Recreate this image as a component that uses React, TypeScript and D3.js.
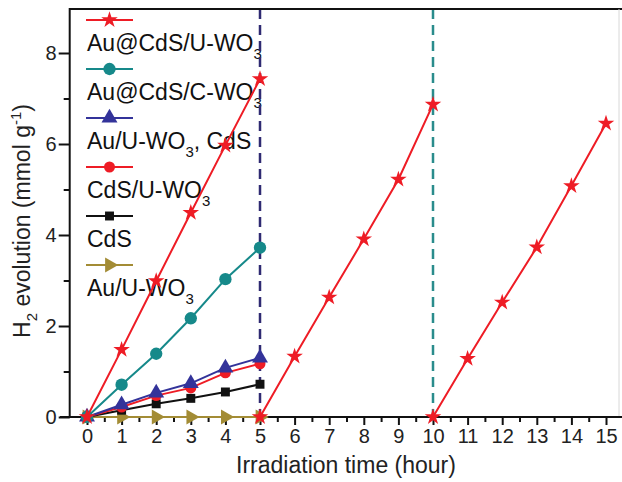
import * as d3 from "d3";
import React, { useEffect, useRef } from "react";

// irradiation hours for each run
const hours = [0, 1, 2, 3, 4, 5];
const cycle2Hours = [5, 6, 7, 8, 9, 10];
const cycle3Hours = [10, 11, 12, 13, 14, 15];

// H2 evolution (mmol g-1)
const auCdsUwo3 = [0, 1.48, 2.99, 4.49, 5.97, 7.43];
const auCdsUwo3Cycle2 = [0, 1.33, 2.63, 3.91, 5.22, 6.87];
const auCdsUwo3Cycle3 = [0, 1.28, 2.52, 3.73, 5.08, 6.45];
const auCdsCwo3 = [0, 0.71, 1.39, 2.17, 3.03, 3.72];
const auUwo3Cds = [0, 0.27, 0.53, 0.74, 1.08, 1.3];
const cdsUwo3 = [0, 0.22, 0.47, 0.64, 0.97, 1.17];
const cds = [0, 0.15, 0.29, 0.41, 0.55, 0.72];
const auUwo3 = [0, 0, 0, 0, 0, 0];

const xTicks = d3.range(0, 16);
const yTicks = [0, 2, 4, 6, 8];
const cycleBreaks = [5, 10];

// legend labels: [text, subscript, rest]
const legendLabels = [
  ["Au@CdS/U-WO", "3", ""],
  ["Au@CdS/C-WO", "3", ""],
  ["Au/U-WO", "3", ", CdS"],
  ["CdS/U-WO", "3", ""],
  ["CdS", "", ""],
  ["Au/U-WO", "3", ""],
];

const FONT = "'Liberation Sans', Arial, sans-serif";

const App = () => {
  const svgRef = useRef<SVGSVGElement>(null);

  useEffect(() => {
    const svg = d3.select(svgRef.current);
    svg.selectAll("*").remove();

    const W = 622;
    const H = 482;
    const x = d3.scaleLinear().domain([0, 15]).range([87, 606]);
    const y = d3.scaleLinear().domain([0, 8]).range([417, 53]);
    const axisX = x(-0.5);
    const top = 9;

    svg.append("rect").attr("width", W).attr("height", H).attr("fill", "#fff");

    const series = [
      { data: [auUwo3], xs: [hours], color: "#a38c35", symbol: d3.symbolTriangle, size: 100, rot: 90 },
      { data: [cds], xs: [hours], color: "#111", symbol: d3.symbolSquare, size: 80, rot: 0 },
      { data: [cdsUwo3], xs: [hours], color: "#ee1c25", symbol: d3.symbolCircle, size: 95, rot: 0 },
      { data: [auUwo3Cds], xs: [hours], color: "#33339a", symbol: d3.symbolTriangle, size: 110, rot: 0 },
      { data: [auCdsCwo3], xs: [hours], color: "#16898a", symbol: d3.symbolCircle, size: 120, rot: 0 },
      {
        data: [auCdsUwo3, auCdsUwo3Cycle2, auCdsUwo3Cycle3],
        xs: [hours, cycle2Hours, cycle3Hours],
        color: "#ee1c25",
        symbol: d3.symbolStar,
        size: 85,
        rot: 0,
      },
    ];
    const legendOrder = [5, 4, 3, 2, 1, 0];

    // legend
    const lg = svg.append("g");
    legendOrder.forEach((si, i) => {
      const s = series[si];
      const ly = 20 + i * 49;
      lg.append("line")
        .attr("x1", 86)
        .attr("x2", 133)
        .attr("y1", ly)
        .attr("y2", ly)
        .attr("stroke", s.color)
        .attr("stroke-width", 2);
      lg.append("path")
        .attr("d", d3.symbol(s.symbol, s.size)())
        .attr("transform", `translate(109.5,${ly}) rotate(${s.rot})`)
        .attr("fill", s.color);
      const [main, sub, rest] = legendLabels[i];
      const t = lg
        .append("text")
        .attr("x", 87)
        .attr("y", 51 + i * 49)
        .attr("font-family", FONT)
        .attr("font-size", 23)
        .attr("fill", "#111");
      t.append("tspan").text(main);
      if (sub) t.append("tspan").attr("dy", 8).attr("font-size", 15).text(sub);
      if (rest) t.append("tspan").attr("dy", -8).text(rest);
    });

    // cycle dividers
    svg
      .selectAll(".cycle")
      .data(cycleBreaks)
      .join("line")
      .attr("x1", (d) => x(d))
      .attr("x2", (d) => x(d))
      .attr("y1", top)
      .attr("y2", y(0))
      .attr("stroke", (d) => (d === 5 ? "#2f2a72" : "#2a8c8c"))
      .attr("stroke-width", 2.5)
      .attr("stroke-dasharray", "10,6");

    // frame
    svg.append("line").attr("x1", axisX).attr("x2", W).attr("y1", top).attr("y2", top)
      .attr("stroke", "#111").attr("stroke-width", 2);
    svg.append("line").attr("x1", 619).attr("x2", 619).attr("y1", top).attr("y2", y(0))
      .attr("stroke", "#d8d8d8").attr("stroke-width", 1);

    // x axis
    const gx = svg.append("g").attr("transform", `translate(0,${y(0)})`);
    gx.call(
      d3.axisBottom(x).tickValues(xTicks).tickSize(8).tickPadding(4).tickFormat(d3.format("d"))
    );
    gx.append("g").call(
      d3.axisBottom(x).tickValues(d3.range(0.5, 15.6, 1)).tickSize(5).tickFormat(() => "")
    );
    gx.selectAll(".domain").remove();
    gx.selectAll("line").attr("stroke", "#111").attr("stroke-width", 2);
    gx.selectAll("text").attr("font-family", FONT).attr("font-size", 20).attr("fill", "#222");
    svg.append("line").attr("x1", 60).attr("x2", W).attr("y1", y(0)).attr("y2", y(0))
      .attr("stroke", "#111").attr("stroke-width", 2);

    // y axis
    const gy = svg.append("g").attr("transform", `translate(${axisX},0)`);
    gy.call(d3.axisLeft(y).tickValues(yTicks).tickSize(11).tickPadding(2).tickFormat(d3.format("d")));
    gy.append("g").call(
      d3.axisLeft(y).tickValues([1, 3, 5, 7]).tickSize(6).tickFormat(() => "")
    );
    gy.selectAll(".domain").remove();
    gy.selectAll("line").attr("stroke", "#111").attr("stroke-width", 2);
    gy.selectAll("text").attr("font-family", FONT).attr("font-size", 20).attr("fill", "#222");
    svg.append("line").attr("x1", axisX).attr("x2", axisX).attr("y1", top - 1).attr("y2", y(0) + 1)
      .attr("stroke", "#111").attr("stroke-width", 2);

    // series
    const line = d3
      .line<number>()
      .x((_, i, arr) => 0)
      .y((d) => y(d));
    series.forEach((s) => {
      s.data.forEach((vals, k) => {
        const xs = s.xs[k];
        const pts = vals.map((v, i) => [x(xs[i]), y(v)] as [number, number]);
        svg.append("path")
          .attr("d", d3.line()(pts))
          .attr("fill", "none")
          .attr("stroke", s.color)
          .attr("stroke-width", 2);
        svg.selectAll(null)
          .data(pts)
          .join("path")
          .attr("d", d3.symbol(s.symbol, s.size)())
          .attr("transform", (p) => `translate(${p[0]},${p[1]}) rotate(${s.rot})`)
          .attr("fill", s.color);
      });
    });
    void line;

    // axis titles
    svg.append("text")
      .attr("x", 346)
      .attr("y", 473)
      .attr("text-anchor", "middle")
      .attr("font-family", FONT)
      .attr("font-size", 23)
      .attr("fill", "#222")
      .text("Irradiation time (hour)");

    const yt = svg.append("text")
      .attr("transform", "translate(30,221) rotate(-90)")
      .attr("text-anchor", "middle")
      .attr("font-family", FONT)
      .attr("font-size", 23)
      .attr("fill", "#222");
    yt.append("tspan").text("H");
    yt.append("tspan").attr("dy", 7).attr("font-size", 15).text("2");
    yt.append("tspan").attr("dy", -7).text(" evolution (mmol g");
    yt.append("tspan").attr("dy", -9).attr("font-size", 15).text("-1");
    yt.append("tspan").attr("dy", 9).text(")");
  }, []);

  return (
    <svg
      ref={svgRef}
      width={622}
      height={482}
      style={{ position: "absolute", left: 0, top: 0 }}
    ></svg>
  );
};

export default App;
